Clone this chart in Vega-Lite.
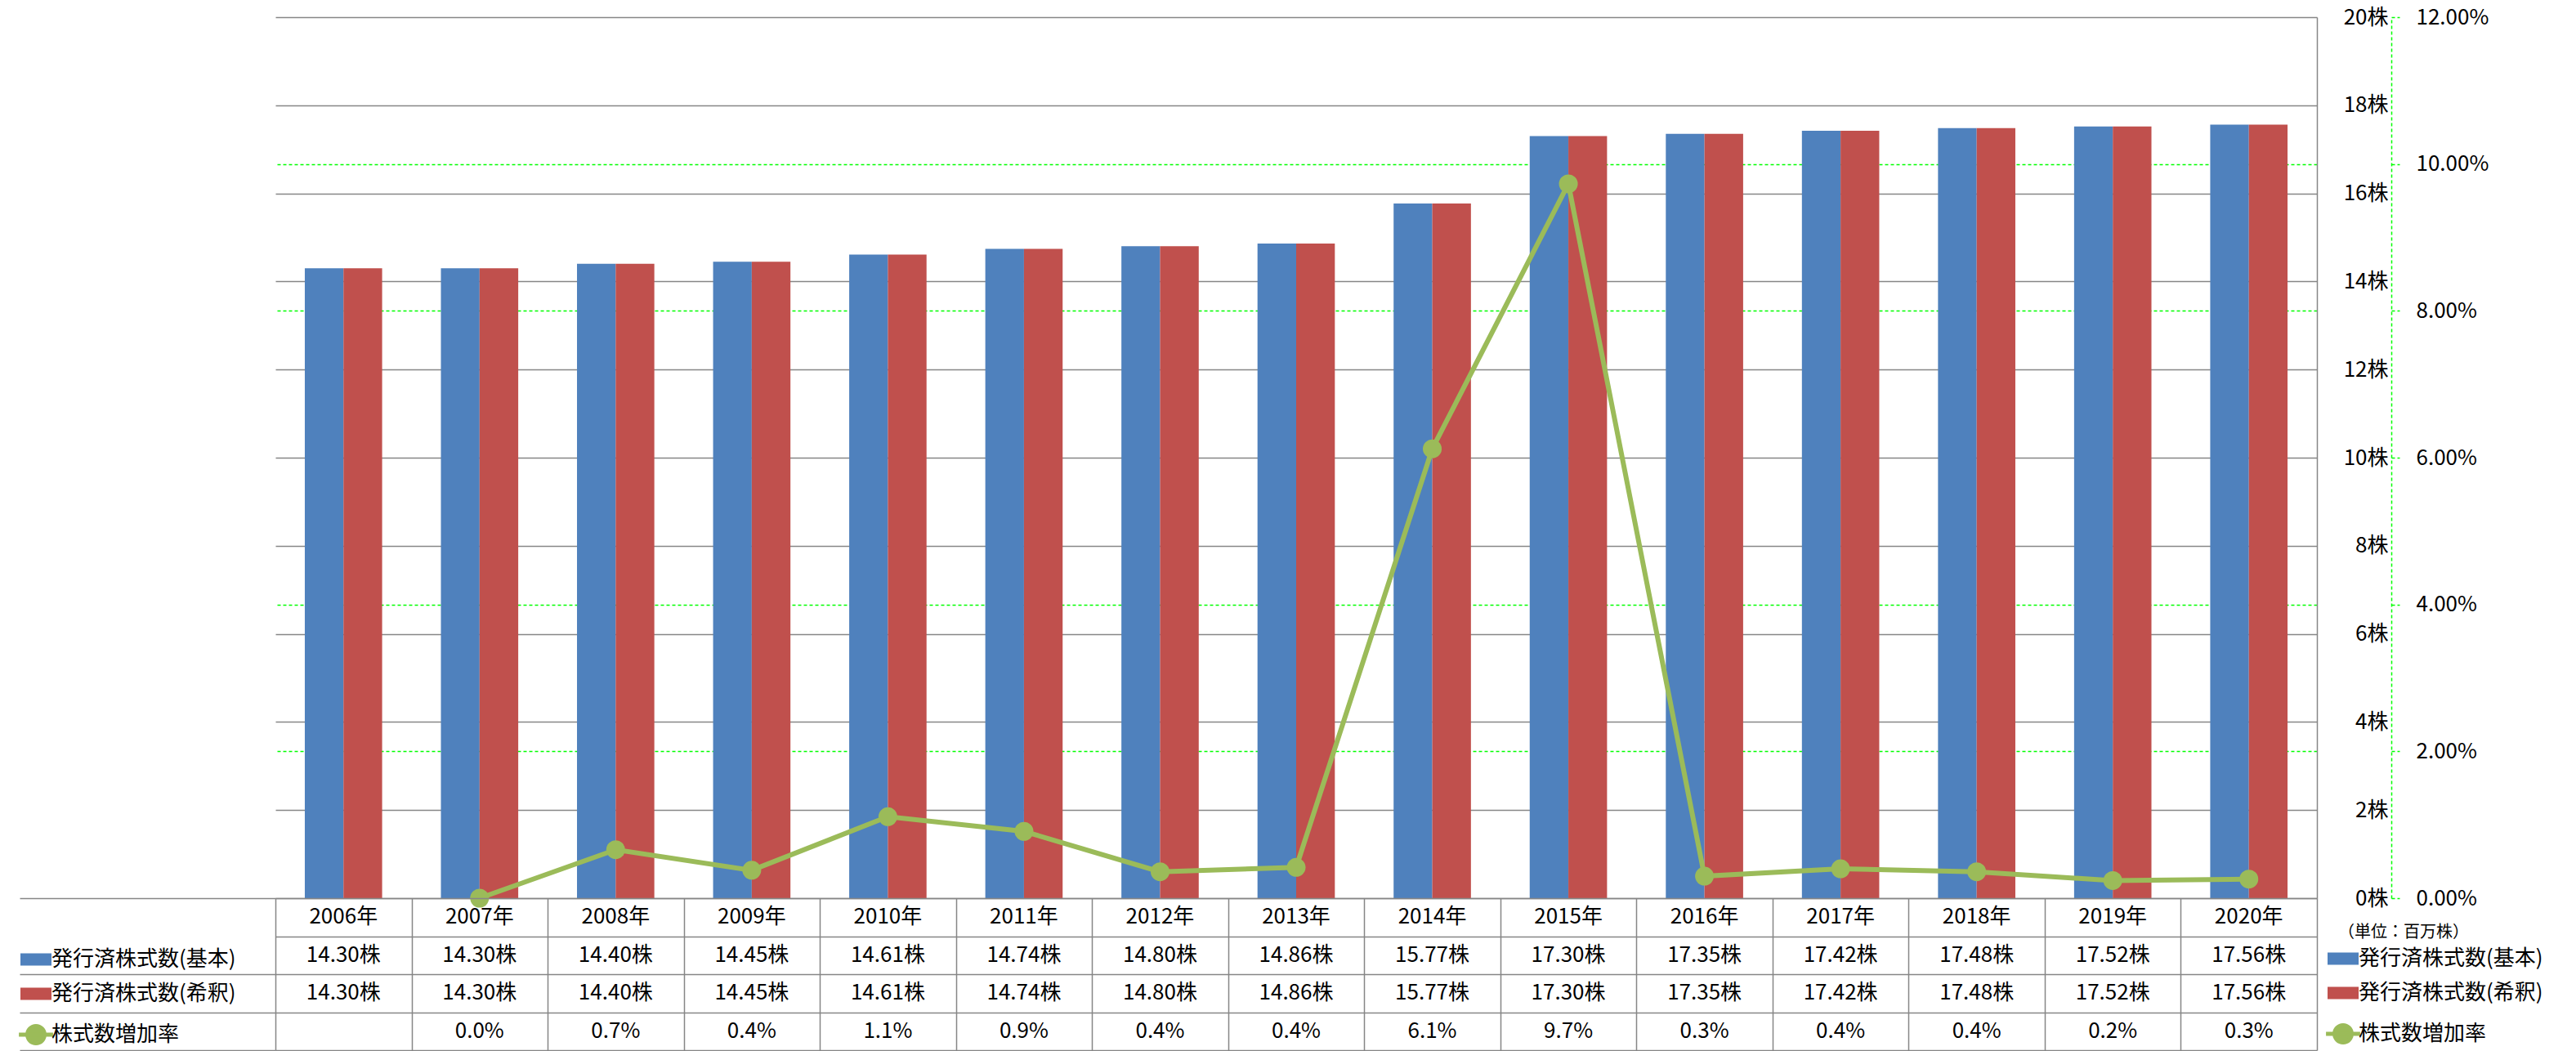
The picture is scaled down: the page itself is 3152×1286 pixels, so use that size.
{
  "$schema": "https://vega.github.io/schema/vega-lite/v6.json",
  "padding": {"left": 23, "top": 8, "right": 5, "bottom": 2},
  "background": "white",
  "config": {
    "font": "Noto Sans CJK JP",
    "view": {"stroke": null},
    "axis": {"labelFont": "Noto Sans CJK JP", "labelFontSize": 26, "labelColor": "black"},
    "legend": {"labelFont": "Noto Sans CJK JP", "labelFontSize": 26, "labelColor": "black", "labelLimit": 0}
  },
  "datasets": {
    "shares": [
      {"year": "2006年", "series": "発行済株式数(基本)", "value": 14.30},
      {"year": "2006年", "series": "発行済株式数(希釈)", "value": 14.30},
      {"year": "2007年", "series": "発行済株式数(基本)", "value": 14.30},
      {"year": "2007年", "series": "発行済株式数(希釈)", "value": 14.30},
      {"year": "2008年", "series": "発行済株式数(基本)", "value": 14.40},
      {"year": "2008年", "series": "発行済株式数(希釈)", "value": 14.40},
      {"year": "2009年", "series": "発行済株式数(基本)", "value": 14.45},
      {"year": "2009年", "series": "発行済株式数(希釈)", "value": 14.45},
      {"year": "2010年", "series": "発行済株式数(基本)", "value": 14.61},
      {"year": "2010年", "series": "発行済株式数(希釈)", "value": 14.61},
      {"year": "2011年", "series": "発行済株式数(基本)", "value": 14.74},
      {"year": "2011年", "series": "発行済株式数(希釈)", "value": 14.74},
      {"year": "2012年", "series": "発行済株式数(基本)", "value": 14.80},
      {"year": "2012年", "series": "発行済株式数(希釈)", "value": 14.80},
      {"year": "2013年", "series": "発行済株式数(基本)", "value": 14.86},
      {"year": "2013年", "series": "発行済株式数(希釈)", "value": 14.86},
      {"year": "2014年", "series": "発行済株式数(基本)", "value": 15.77},
      {"year": "2014年", "series": "発行済株式数(希釈)", "value": 15.77},
      {"year": "2015年", "series": "発行済株式数(基本)", "value": 17.30},
      {"year": "2015年", "series": "発行済株式数(希釈)", "value": 17.30},
      {"year": "2016年", "series": "発行済株式数(基本)", "value": 17.35},
      {"year": "2016年", "series": "発行済株式数(希釈)", "value": 17.35},
      {"year": "2017年", "series": "発行済株式数(基本)", "value": 17.42},
      {"year": "2017年", "series": "発行済株式数(希釈)", "value": 17.42},
      {"year": "2018年", "series": "発行済株式数(基本)", "value": 17.48},
      {"year": "2018年", "series": "発行済株式数(希釈)", "value": 17.48},
      {"year": "2019年", "series": "発行済株式数(基本)", "value": 17.52},
      {"year": "2019年", "series": "発行済株式数(希釈)", "value": 17.52},
      {"year": "2020年", "series": "発行済株式数(基本)", "value": 17.56},
      {"year": "2020年", "series": "発行済株式数(希釈)", "value": 17.56},
      {"year": "2007年", "series": "株式数増加率", "value": 0.0},
      {"year": "2008年", "series": "株式数増加率", "value": 0.0066},
      {"year": "2009年", "series": "株式数増加率", "value": 0.0038},
      {"year": "2010年", "series": "株式数増加率", "value": 0.0111},
      {"year": "2011年", "series": "株式数増加率", "value": 0.0091},
      {"year": "2012年", "series": "株式数増加率", "value": 0.0036},
      {"year": "2013年", "series": "株式数増加率", "value": 0.0042},
      {"year": "2014年", "series": "株式数増加率", "value": 0.0612},
      {"year": "2015年", "series": "株式数増加率", "value": 0.0973},
      {"year": "2016年", "series": "株式数増加率", "value": 0.0030},
      {"year": "2017年", "series": "株式数増加率", "value": 0.0040},
      {"year": "2018年", "series": "株式数増加率", "value": 0.0036},
      {"year": "2019年", "series": "株式数増加率", "value": 0.0024},
      {"year": "2020年", "series": "株式数増加率", "value": 0.0026}
    ]
  },
  "vconcat": [
    {
      "width": 2498,
      "height": 1078,
      "data": {"name": "shares"},
      "layer": [
        {
          "transform": [{"filter": "datum.series !== '株式数増加率'"}],
          "mark": {"type": "bar"},
          "encoding": {
            "x": {"field": "year", "type": "nominal", "sort": null, "axis": null,
                  "scale": {"domain": ["2006年","2007年","2008年","2009年","2010年","2011年","2012年","2013年","2014年","2015年","2016年","2017年","2018年","2019年","2020年"], "paddingInner": 0, "paddingOuter": 0}},
            "xOffset": {"field": "series", "type": "nominal",
                        "scale": {"domain": ["発行済株式数(基本)", "発行済株式数(希釈)"], "paddingInner": 0, "paddingOuter": 0.76}},
            "y": {"field": "value", "type": "quantitative",
                  "scale": {"domain": [0, 20], "nice": false},
                  "axis": {"orient": "right", "title": null, "values": [0,2,4,6,8,10,12,14,16,18,20],
                           "labelExpr": "datum.value + '株'", "labelAlign": "right", "labelBaseline": "middle", "labelPadding": 87,
                           "ticks": false, "domain": true, "domainColor": "#868686", "domainWidth": 1.5,
                           "grid": true, "gridColor": "#868686", "gridWidth": 1.5}},
            "color": {"field": "series", "type": "nominal",
                      "scale": {"domain": ["発行済株式数(基本)", "発行済株式数(希釈)", "株式数増加率"], "range": ["#4F81BD", "#C0504D", "#9BBB59"]},
                      "legend": {"orient": "none", "legendX": 2517, "legendY": 1139, "title": null, "padding": 0, "labelOffset": 6, "rowPadding": 16, "symbolSize": 1444, "labelLimit": 0,
                                 "encode": {
                                   "symbols": {"update": {
                                     "shape": {"signal": "datum.value === '株式数増加率' ? 'M-1.1,0H1.1M-0.55,0A0.55,0.55,0,1,1,0.55,0A0.55,0.55,0,1,1,-0.55,0Z' : 'M-1,-0.4H1V0.4H-1Z'"},
                                     "fill": {"signal": "datum.value === '発行済株式数(基本)' ? '#4F81BD' : datum.value === '発行済株式数(希釈)' ? '#C0504D' : '#9BBB59'"},
                                     "stroke": {"signal": "datum.value === '株式数増加率' ? '#9BBB59' : 'transparent'"},
                                     "strokeWidth": {"signal": "datum.value === '株式数増加率' ? 5 : 0"},
                                     "opacity": {"value": 1},
                                     "size": {"value": 1444}
                                   }}
                                 }}}
          }
        },
        {
          "transform": [{"filter": "datum.series === '株式数増加率'"}],
          "mark": {"type": "line", "strokeWidth": 6, "point": {"size": 530, "filled": true, "opacity": 1}},
          "encoding": {
            "x": {"field": "year", "type": "nominal", "sort": null, "axis": null,
                  "scale": {"domain": ["2006年","2007年","2008年","2009年","2010年","2011年","2012年","2013年","2014年","2015年","2016年","2017年","2018年","2019年","2020年"], "paddingInner": 0, "paddingOuter": 0}},
            "y": {"field": "value", "type": "quantitative",
                  "scale": {"domain": [0, 0.12], "nice": false},
                  "axis": {"orient": "right", "offset": 91, "title": null, "values": [0, 0.02, 0.04, 0.06, 0.08, 0.1, 0.12],
                           "format": ".2%", "labelAlign": "left", "labelBaseline": "middle", "labelPadding": 20,
                           "domain": true, "domainColor": "#00FF00", "domainDash": [4, 3], "domainWidth": 1.5,
                           "ticks": true, "tickColor": "#00FF00", "tickSize": 10, "tickWidth": 1.5, "tickDash": [4, 3],
                           "grid": true, "gridColor": "#00FF00", "gridDash": [4, 3], "gridWidth": 1.5,
                           "gridOpacity": {"condition": {"test": "datum.value < 0.001 || datum.value > 0.119 || abs(datum.value - 0.06) < 0.001", "value": 0}, "value": 1}}},
            "color": {"field": "series", "type": "nominal"}
          }
        }
      ],
      "resolve": {"scale": {"y": "independent"}}
    },
    {
      "width": 2498,
      "height": 186,
      "title": {"text": "（単位：百万株）", "orient": "top", "anchor": "end", "frame": "group", "offset": 0, "dx": 186, "dy": 63, "baseline": "middle", "fontSize": 20, "fontWeight": "normal", "color": "black", "font": "Noto Sans CJK JP"},
      "data": {"name": "shares"},
      "layer": [
        {
          "transform": [{"filter": "datum.series === '発行済株式数(基本)'"}],
          "mark": {"type": "text", "fontSize": 26, "color": "black", "baseline": "middle"},
          "encoding": {
            "x": {"field": "year", "type": "nominal", "sort": null,
                  "scale": {"domain": ["2006年","2007年","2008年","2009年","2010年","2011年","2012年","2013年","2014年","2015年","2016年","2017年","2018年","2019年","2020年"], "paddingInner": 0, "paddingOuter": 0},
                  "axis": {"orient": "top", "tickBand": "extent", "grid": true, "gridColor": "#868686", "gridWidth": 1.5,
                           "ticks": false, "domain": false, "labels": false, "title": null}},
            "y": {"datum": "年次", "type": "nominal",
                  "scale": {"domain": ["年次", "発行済株式数(基本)", "発行済株式数(希釈)", "株式数増加率"], "paddingInner": 0, "paddingOuter": 0},
                  "axis": {"orient": "left", "tickBand": "extent", "grid": true, "gridColor": "#868686", "gridWidth": 1.5,
                           "ticks": true, "tickSize": 313, "tickColor": "#868686", "tickWidth": 1.5,
                           "tickOpacity": {"condition": {"test": "datum.value === '年次'", "value": 0}, "value": 1},
                           "labels": false, "domain": false, "title": null}},
            "text": {"field": "year"}
          }
        },
        {
          "transform": [
            {"calculate": "datum.series === '株式数増加率' ? format(datum.value, '.1%') : format(datum.value, '.2f') + '株'", "as": "label"}
          ],
          "mark": {"type": "text", "fontSize": 26, "baseline": "middle", "color": "black"},
          "encoding": {
            "x": {"field": "year", "type": "nominal", "sort": null},
            "y": {"field": "series", "type": "nominal"},
            "text": {"field": "label"}
          }
        },
        {
          "mark": {"type": "point", "filled": true, "opacity": 0},
          "encoding": {
            "x": {"field": "year", "type": "nominal", "sort": null},
            "y": {"field": "series", "type": "nominal"},
            "color": {"field": "series", "type": "nominal",
                      "scale": {"domain": ["発行済株式数(基本)", "発行済株式数(希釈)", "株式数増加率"], "range": ["#4F81BD", "#C0504D", "#9BBB59"]},
                      "legend": {"orient": "none", "legendX": -306, "legendY": 62, "title": null, "padding": 0, "labelOffset": 6, "rowPadding": 16, "symbolSize": 1444, "labelLimit": 0,
                                 "encode": {
                                   "symbols": {"update": {
                                     "shape": {"signal": "datum.value === '株式数増加率' ? 'M-1.1,0H1.1M-0.55,0A0.55,0.55,0,1,1,0.55,0A0.55,0.55,0,1,1,-0.55,0Z' : 'M-1,-0.4H1V0.4H-1Z'"},
                                     "fill": {"signal": "datum.value === '発行済株式数(基本)' ? '#4F81BD' : datum.value === '発行済株式数(希釈)' ? '#C0504D' : '#9BBB59'"},
                                     "stroke": {"signal": "datum.value === '株式数増加率' ? '#9BBB59' : 'transparent'"},
                                     "strokeWidth": {"signal": "datum.value === '株式数増加率' ? 5 : 0"},
                                     "opacity": {"value": 1},
                                     "size": {"value": 1444}
                                   }}
                                 }}}
          }
        }
      ]
    }
  ],
  "spacing": 0,
  "bounds": "flush",
  "resolve": {"scale": {"x": "independent", "color": "independent"}, "legend": {"color": "independent"}}
}
